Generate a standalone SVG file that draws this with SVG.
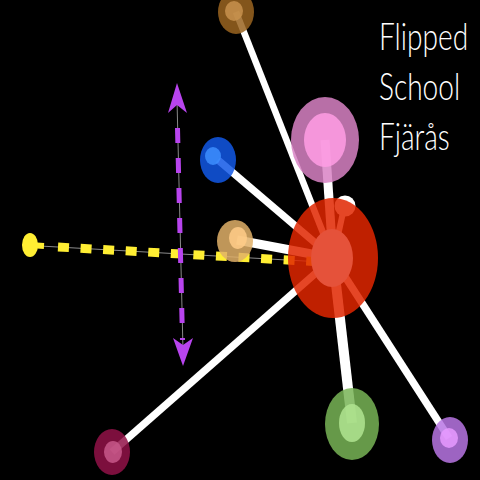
<svg xmlns="http://www.w3.org/2000/svg" width="480" height="480" viewBox="0 0 480 480">
<defs>
<style>
.spoke{stroke:#ffffff;stroke-linecap:butt;fill:none}
.guide{stroke:#8a8a8a;stroke-width:1;fill:none}
.ydash{stroke:#ffee33;stroke-width:9;stroke-dasharray:11 11.6;fill:none}
.pdash{stroke:#b844ee;stroke-width:5;stroke-dasharray:15 15;fill:none}
.outer{opacity:0.85}
.inner{opacity:0.85}
.label{font-family:Lato,"Liberation Sans",sans-serif;font-weight:300;font-size:38px;fill:#ffffff}
</style>
</defs>
<rect x="0" y="0" width="480" height="480" fill="#000000"/>
<g id="connectors">
<line class="spoke" x1="333" y1="258" x2="236" y2="12" stroke-width="6.5"/>
<line class="spoke" x1="333" y1="258" x2="325" y2="140" stroke-width="9"/>
<line class="spoke" x1="333" y1="258" x2="218" y2="160" stroke-width="7.5"/>
<line class="spoke" x1="333" y1="258" x2="237" y2="240" stroke-width="9"/>
<line class="spoke" x1="333" y1="258" x2="112" y2="452" stroke-width="7.5"/>
<line class="spoke" x1="333" y1="258" x2="352" y2="423" stroke-width="10"/>
<line class="spoke" x1="333" y1="258" x2="449" y2="438" stroke-width="7.5"/>
<line class="spoke" x1="333" y1="258" x2="344" y2="208" stroke-width="6"/>
<line class="guide" x1="40" y1="246" x2="322" y2="262"/>
<line class="ydash" x1="58" y1="247" x2="322" y2="262"/>
<line class="guide" x1="177" y1="100" x2="183" y2="350"/>
<line class="pdash" x1="177.5" y1="128" x2="182.5" y2="340"/>
<polygon points="177,83 187,113 177,105 168,113" fill="#b844ee"/>
<polygon points="183,366 173,338 183,345 193,338" fill="#b844ee"/>
</g>
<g id="node-yellow">
<line x1="30" y1="245" x2="44" y2="246" stroke="#ffee33" stroke-width="6"/>
<ellipse cx="30" cy="245" rx="8" ry="12" fill="#ffee33"/>
</g>
<g id="node-brown">
<ellipse class="outer" cx="236" cy="12" rx="18" ry="22" fill="#9a6420"/>
<ellipse class="inner" cx="234" cy="11" rx="9" ry="10" fill="#c8924e"/>
</g>
<g id="node-pink">
<ellipse class="outer" cx="325" cy="140" rx="34" ry="43" fill="#d882c4"/>
<ellipse class="inner" cx="325" cy="140" rx="21" ry="27" fill="#ff9ee4"/>
</g>
<g id="node-blue">
<ellipse class="outer" cx="218" cy="160" rx="18" ry="23" fill="#1258e6"/>
<ellipse class="inner" cx="213" cy="156" rx="8" ry="9" fill="#3d8eff"/>
</g>
<g id="node-tan">
<ellipse class="outer" cx="235" cy="241" rx="18" ry="21" fill="#e0b068"/>
<ellipse class="inner" cx="238" cy="238" rx="9" ry="11" fill="#ffcc88"/>
</g>
<g id="node-maroon">
<ellipse class="outer" cx="112" cy="452" rx="18" ry="23" fill="#921248"/>
<ellipse class="inner" cx="113" cy="452" rx="9" ry="11" fill="#c8588a"/>
</g>
<g id="node-green">
<ellipse class="outer" cx="352" cy="424" rx="27" ry="36" fill="#78b456"/>
<ellipse class="inner" cx="352" cy="423" rx="13" ry="19" fill="#b0e490"/>
</g>
<g id="node-violet">
<ellipse class="outer" cx="450" cy="440" rx="18" ry="23" fill="#b876e4"/>
<ellipse class="inner" cx="449" cy="438" rx="9" ry="10" fill="#e89aff"/>
</g>
<g id="node-hub">
<circle cx="345" cy="206" r="10.5" fill="#ffffff"/>
<ellipse cx="333" cy="258" rx="45" ry="60" fill="#e02600" opacity="0.85"/>
<ellipse cx="332" cy="258" rx="21" ry="29" fill="#e5523a"/>
</g>
<g id="title">
<text class="label" transform="translate(379,50) scale(0.74,1)" x="0" y="0">Flipped</text>
<text class="label" transform="translate(379,100) scale(0.74,1)" x="0" y="0">School</text>
<text class="label" transform="translate(379,150) scale(0.74,1)" x="0" y="0">Fjärås</text>
</g>
</svg>
